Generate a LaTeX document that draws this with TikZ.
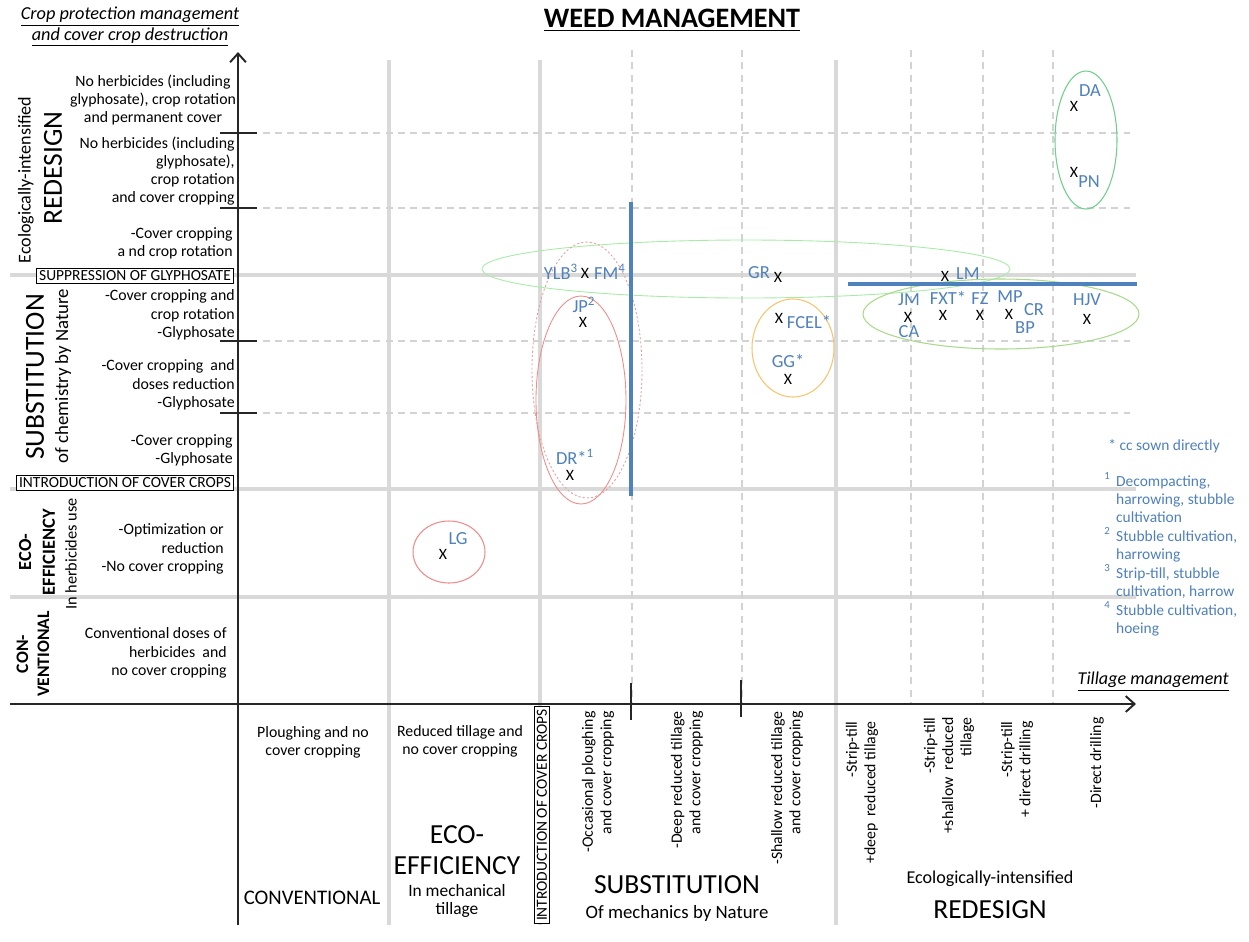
\documentclass[tikz,border=0pt]{standalone}
\usepackage{fontspec}
\setmainfont{Carlito}
\usepackage{xcolor}
\usepackage{tikz}
\usetikzlibrary{arrows.meta, positioning}
\definecolor{gridgrey}{HTML}{D9D9D9}
\definecolor{dashgrey}{HTML}{D3D3D3}
\definecolor{farmblue}{HTML}{4F81BD}
\definecolor{ellgreen}{HTML}{6FD08C}
\definecolor{limegreen}{HTML}{A9D98A}
\definecolor{palegreen}{HTML}{A8EBA8}
\definecolor{ellred}{HTML}{F08C8C}
\definecolor{dotred}{HTML}{E8A0A0}
\definecolor{ellorange}{HTML}{F7C56E}

\tikzset{
    gridline/.style={gridgrey, line width=2.3pt},
    gridsub/.style={dashgrey, line width=0.8pt, dash pattern=on 4pt off 3pt},
    axis/.style={black!85, line width=1.1pt, -{Straight Barb[length=5pt, width=9pt]}},
    tickmark/.style={black!85, line width=0.8pt},
    barrier/.style={farmblue, line width=2.8pt},
    lvltext/.style={font=\fontsize{9}{10.4}\selectfont, inner sep=0pt, align=right},
    cntext/.style={font=\fontsize{9}{10.4}\selectfont, inner sep=0pt, align=center},
    bigtext/.style={font=\fontsize{15.7}{17.5}\selectfont, inner sep=0pt, align=center},
    subtext/.style={font=\fontsize{10.7}{12}\selectfont, inner sep=0pt, align=center},
    stagebox/.style={draw, line width=0.6pt, fill=white, font=\fontsize{8.8}{10}\selectfont, inner xsep=1.5pt, inner ysep=1.5pt},
    tilt/.style={rotate=90, anchor=east, font=\fontsize{9}{10.4}\selectfont, inner sep=0pt, align=right},
    farm/.style={text=farmblue, font=\fontsize{10.5}{12}\selectfont, inner sep=0pt},
    xmark/.style={font=\fontsize{9}{11}\selectfont, inner sep=0pt},
    notetext/.style={text=farmblue, font=\fontsize{8.8}{10.5}\selectfont, inner sep=0pt, align=left}
}

\begin{document}
\begin{tikzpicture}[x=0.02cm, y=-0.02cm]
    \fill[white] (0,0) rectangle (1249,941);
    \useasboundingbox (0,0) rectangle (1249,941);

    % Grid: solid grey separators
    \foreach \gx in {389, 540, 836} {
        \draw[gridline] (\gx,60) -- (\gx,925);
    }
    \foreach \gy in {275, 489, 597} {
        \draw[gridline] (10,\gy) -- (1136,\gy);
    }

    % Grid: dashed sub-divisions and ticks
    \foreach \gx in {632, 742, 911, 983, 1053} {
        \draw[gridsub] (\gx,50) -- (\gx,704);
    }
    \foreach \gy in {133, 208, 341, 413} {
        \draw[gridsub] (238,\gy) -- (1130,\gy);
        \draw[tickmark] (220,\gy) -- (257,\gy);
    }
    \draw[tickmark] (631,683) -- (631,720);
    \draw[tickmark] (741,680) -- (741,717);

    % Axes
    \coordinate (yfoot) at (238,925);
    \coordinate (ytip) at (238,52);
    \coordinate (xfoot) at (10,704);
    \coordinate (xtip) at (1136,704);
    \draw[axis] (yfoot) -- (ytip);
    \draw[axis] (xfoot) -- (xtip);

    % Groups of farms
    \draw[palegreen, line width=0.5pt] (746,269) ellipse [x radius=264, y radius=29];
    \draw[limegreen, line width=0.6pt] (1001,314) ellipse [x radius=138, y radius=35];
    \draw[ellgreen, line width=0.6pt] (1086,140) ellipse [x radius=31, y radius=69];
    \draw[dotred, line width=0.5pt, dash pattern=on 1.2pt off 1.2pt] (587,370) ellipse [x radius=55, y radius=128];
    \draw[ellred, line width=0.5pt] (581,400) ellipse [x radius=45, y radius=104];
    \draw[ellorange, line width=0.6pt] (793,348) ellipse [x radius=41, y radius=49];
    \draw[ellred, line width=0.6pt] (449,552) ellipse [x radius=36, y radius=31];

    % Thresholds
    \draw[barrier] (631,202) -- (631,496);
    \draw[barrier] (848,284) -- (1137,284);

    % Title and axis names
    \node[font=\fontsize{16}{18}\selectfont\bfseries, inner sep=0pt] (title) at (672,20) {\underline{WEED MANAGEMENT}};
    \node[font=\fontsize{10.4}{11.5}\selectfont\itshape, inner sep=0pt, align=center] (yname) at (130,27)
        {\underline{Crop protection management}\\\underline{and cover crop destruction}};
    \node[font=\fontsize{10.3}{12}\selectfont\itshape, inner sep=0pt, anchor=east] (xname) at (1229,682)
        {\underline{Tillage management}};

    % Vertical axis levels
    \node[cntext] (lvlA) at (153,100) {No herbicides (including\\glyphosate), crop rotation\\and permanent cover};
    \node[lvltext, anchor=east] (lvlB) at (235,171) {No herbicides (including\\glyphosate),\\crop rotation\\and cover cropping};
    \node[lvltext, anchor=east] (lvlC) at (233,243) {-Cover cropping\\a nd crop rotation};
    \node[stagebox] (supp) at (135,276) {SUPPRESSION OF GLYPHOSATE};
    \node[lvltext, anchor=east] (lvlD) at (235,315) {-Cover cropping and\\crop rotation\\-Glyphosate};
    \node[lvltext, anchor=east] (lvlE) at (235,385) {-Cover cropping\ \ and\\doses reduction\\-Glyphosate};
    \node[lvltext, anchor=east] (lvlF) at (233,450) {-Cover cropping\\-Glyphosate};
    \node[stagebox] (introY) at (125,483) {INTRODUCTION OF COVER CROPS};
    \node[lvltext, anchor=east] (lvlG) at (224,549) {-Optimization or\\reduction\\-No cover cropping};
    \node[lvltext, anchor=east] (lvlH) at (227,653) {Conventional doses of\\herbicides\ \ and\\no cover cropping};

    % Vertical axis strategies
    \node[rotate=90, font=\fontsize{10.3}{11}\selectfont, inner sep=0pt] (ecoY) at (26,180) {Ecologically-intensified};
    \node[rotate=90, bigtext] (redY) at (53,168) {REDESIGN};
    \node[rotate=90, bigtext] (subY) at (35,377) {SUBSTITUTION};
    \node[rotate=90, subtext] (subYt) at (63,376) {of chemistry by Nature};
    \node[rotate=90, font=\fontsize{10.5}{13.5}\selectfont\bfseries, inner sep=0pt, align=center] (effY) at (37,552) {ECO-\\EFFICIENCY};
    \node[rotate=90, font=\fontsize{9.3}{10}\selectfont, inner sep=0pt] (effYt) at (71,554) {In herbicides use};
    \node[rotate=90, font=\fontsize{10}{12}\selectfont\bfseries, inner sep=0pt, align=center] (convY) at (33,654) {CON-\\VENTIONAL};

    % Horizontal axis levels
    \node[cntext] (tilA) at (313,742) {Ploughing and no\\cover cropping};
    \node[cntext] (tilB) at (460,741) {Reduced tillage and\\no cover cropping};
    \node[stagebox, rotate=90] (introX) at (542,815) {INTRODUCTION OF COVER CROPS};
    \node[tilt] (tilC) at (598,711) {-Occasional ploughing\\and cover cropping};
    \node[tilt] (tilD) at (687,711) {-Deep reduced tillage\\and cover cropping};
    \node[tilt] (tilE) at (787,711) {-Shallow reduced tillage\\and cover cropping};
    \node[tilt] (tilF) at (862,721) {-Strip-till\\+deep\ \ reduced tillage};
    \node[tilt] (tilG) at (949,717) {-Strip-till\\+shallow\ \ reduced\\tillage};
    \node[tilt] (tilH) at (1017,721) {-Strip-till\\+ direct drilling};
    \node[tilt] (tilI) at (1097,717) {-Direct drilling};

    % Horizontal axis strategies
    \node[font=\fontsize{11.8}{13}\selectfont, inner sep=0pt] (convX) at (312,898) {CONVENTIONAL};
    \node[bigtext, font=\fontsize{15.7}{17.5}\selectfont] (effX) at (457,850) {ECO-\\EFFICIENCY};
    \node[cntext, font=\fontsize{9.9}{10.5}\selectfont] (effXt) at (457,901) {In mechanical\\tillage};
    \node[bigtext] (subX) at (677,885) {SUBSTITUTION};
    \node[subtext] (subXt) at (677,913) {Of mechanics by Nature};
    \node[cntext, font=\fontsize{10.3}{11}\selectfont] (ecoX) at (990,879) {Ecologically-intensified};
    \node[bigtext] (redX) at (990,910) {REDESIGN};

    % Farms (x marks)
    \foreach \id/\px/\py in {DA/1074/106, PN/1074/172, YLB/585/273, GR/778/277, JP/583/322,
        DR/570/475, FCEL/779/318, GG/788/379, LG/443/554, LM/945/276, JM/908/317,
        FXT/943/315, FZ/980/315, MP/1009/314, HJV/1087/319} {
        \node[xmark] (x\id) at (\px,\py) {X};
    }

    % Farm names
    \foreach \id/\lbl/\lx/\ly in {DA/DA/1090/91, PN/PN/1089/182, YLB/{YLB\textsuperscript{3}}/561/272,
        FM/{FM\textsuperscript{4}}/610/272, GR/GR/759/273, JP/{JP\textsuperscript{2}}/584/305,
        DR/{DR*\textsuperscript{1}}/575/457, FCEL/FCEL*/809/322, GG/GG*/788/361, LG/LG/458/539,
        LM/LM/968/274, JM/JM/909/300, CA/CA/909/332, FXT/FXT*/948/298, FZ/FZ/980/299,
        MP/MP/1010/297, CR/CR/1034/310, BP/BP/1025/328, HJV/HJV/1087/300} {
        \node[farm] (n\id) at (\lx,\ly) {\lbl};
    }

    % Notes
    \node[notetext, anchor=west] (star) at (1108,446) {* cc sown directly};
    \node[notetext, anchor=north west] (notes) at (1104,472)
        {\makebox[1.6ex][l]{\textsuperscript{1}}Decompacting,\\
         \hspace*{1.6ex}harrowing, stubble\\
         \hspace*{1.6ex}cultivation\\
         \makebox[1.6ex][l]{\textsuperscript{2}}Stubble cultivation,\\
         \hspace*{1.6ex}harrowing\\
         \makebox[1.6ex][l]{\textsuperscript{3}}Strip-till, stubble\\
         \hspace*{1.6ex}cultivation, harrow\\
         \makebox[1.6ex][l]{\textsuperscript{4}}Stubble cultivation,\\
         \hspace*{1.6ex}hoeing};
\end{tikzpicture}
\end{document}
